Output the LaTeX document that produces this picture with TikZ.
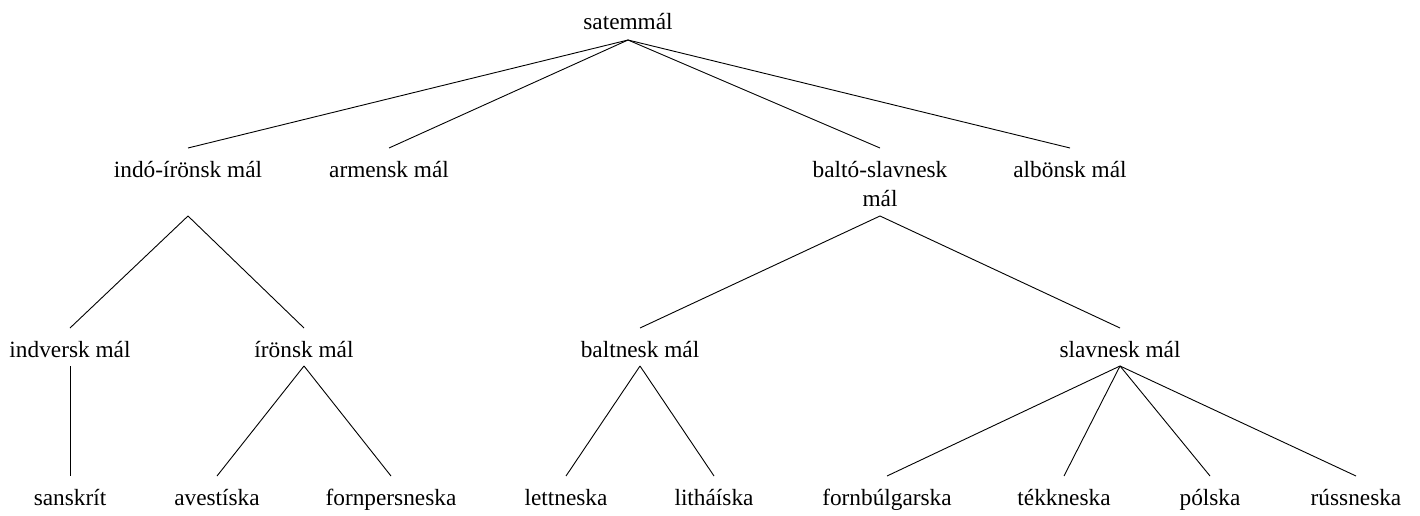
\documentclass[tikz,border=0pt]{standalone}
\usepackage{fontspec}
\setmainfont{Liberation Serif}

\tikzset{
  lang/.style={inner sep=0pt, outer sep=0pt, anchor=base, text height=29pt, font=\fontsize{23.3}{29}\selectfont},
  toprow/.style={lang, text depth=10pt},
  midrow/.style={lang, text depth=39pt},
  twoline/.style={lang, align=center, text height=58pt, text depth=10pt},
  lowrow/.style={lang, text depth=9pt},
  leafrow/.style={lang, text depth=6pt},
  branch/.style={line width=0.9pt}
}

\begin{document}
\begin{tikzpicture}[x=1pt,y=-1pt]
\useasboundingbox (0,0) rectangle (1420,516);

% root
\node[toprow] (satem) at (628,30) {satemmál};

% second row
\node[midrow] (indoiran) at (188,177) {indó-írönsk mál};
\node[midrow] (armensk) at (389,177) {armensk mál};
\node[twoline] (baltoslav) at (880,206) {baltó-slavnesk\\mál};
\node[midrow] (albansk) at (1070,177) {albönsk mál};

\draw[branch] (satem.south) -- (indoiran.north);
\draw[branch] (satem.south) -- (armensk.north);
\draw[branch] (satem.south) -- (baltoslav.north);
\draw[branch] (satem.south) -- (albansk.north);

% third row
\node[lowrow] (indversk) at (70,357) {indversk mál};
\node[lowrow] (iransk) at (304,357) {írönsk mál};
\node[lowrow] (baltnesk) at (640,357) {baltnesk mál};
\node[lowrow] (slavnesk) at (1120,357) {slavnesk mál};

\draw[branch] (indoiran.south) -- (indversk.north);
\draw[branch] (indoiran.south) -- (iransk.north);
\draw[branch] (baltoslav.south) -- (baltnesk.north);
\draw[branch] (baltoslav.south) -- (slavnesk.north);

% leaves
\node[leafrow] (sanskrit) at (70,505) {sanskrít};
\node[leafrow] (avest) at (217,505) {avestíska};
\node[leafrow] (fornpers) at (391,505) {fornpersneska};
\node[leafrow] (lett) at (566,505) {lettneska};
\node[leafrow] (lith) at (714,505) {litháíska};
\node[leafrow] (fornbulg) at (887,505) {fornbúlgarska};
\node[leafrow] (tekk) at (1064,505) {tékkneska};
\node[leafrow] (polsk) at (1210,505) {pólska};
\node[leafrow] (russ) at (1356,505) {rússneska};

\draw[branch] (indversk.south) -- (sanskrit.north);
\draw[branch] (iransk.south) -- (avest.north);
\draw[branch] (iransk.south) -- (fornpers.north);
\draw[branch] (baltnesk.south) -- (lett.north);
\draw[branch] (baltnesk.south) -- (lith.north);
\draw[branch] (slavnesk.south) -- (fornbulg.north);
\draw[branch] (slavnesk.south) -- (tekk.north);
\draw[branch] (slavnesk.south) -- (polsk.north);
\draw[branch] (slavnesk.south) -- (russ.north);

\end{tikzpicture}
\end{document}
